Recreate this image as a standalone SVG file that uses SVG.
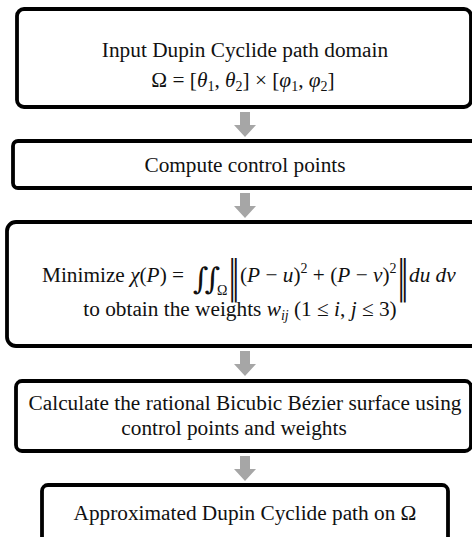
<svg xmlns="http://www.w3.org/2000/svg" width="472" height="537" viewBox="0 0 472 537">
<style>
.box{fill:#fff;stroke:#000;stroke-width:3.8}
.t{font-family:"Liberation Serif","Times New Roman",serif;font-size:21.3px;fill:#111}
.s{font-size:14px}
.i{font-style:italic}
.big{font-family:"DejaVu Serif","Liberation Serif",serif;font-size:30px;font-style:italic;fill:#111}
.bar{font-family:"DejaVu Sans","DejaVu Serif",sans-serif;font-size:22px;fill:#111}
.arr{fill:#a6a6a6}
</style>
<defs>
<path id="down" class="arr" d="M-5,0 H5 V13 H11 L0,25 L-11,13 H-5 Z"/>
</defs>
<rect width="472" height="537" fill="#fff"/>
<g id="connectors">
<use href="#down" x="245" y="112"/>
<use href="#down" x="245" y="193"/>
<use href="#down" x="245" y="351"/>
<use href="#down" x="245" y="456"/>
</g>
<g id="n1">
<rect class="box" x="17" y="9" width="454" height="98" rx="7"/>
<text class="t" x="245" y="57" text-anchor="middle">Input Dupin Cyclide path domain</text>
<text class="t" x="243" y="87" text-anchor="middle">Ω = [<tspan class="i">θ</tspan><tspan class="s" dy="4">1</tspan><tspan dy="-4">, </tspan><tspan class="i">θ</tspan><tspan class="s" dy="4">2</tspan><tspan dy="-4">] × [</tspan><tspan class="i">φ</tspan><tspan class="s" dy="4">1</tspan><tspan dy="-4">, </tspan><tspan class="i">φ</tspan><tspan class="s" dy="4">2</tspan><tspan dy="-4">]</tspan></text>
</g>
<g id="n2">
<rect class="box" x="13" y="141" width="475" height="47" rx="5"/>
<text class="t" x="245" y="172" text-anchor="middle">Compute control points</text>
</g>
<g id="n3">
<rect class="box" x="7" y="222" width="480" height="124" rx="9"/>
<text class="t" x="42" y="282">Minimize <tspan class="i">χ</tspan>(<tspan class="i">P</tspan>) =</text>
<text class="big" x="193" y="289" letter-spacing="-4">∫∫</text>
<text class="t s" x="217" y="295">Ω</text>
<text class="bar" transform="translate(234,292) scale(1,2.05)" text-anchor="middle">‖</text>
<text class="t" x="240" y="282">(<tspan class="i">P</tspan> − <tspan class="i">u</tspan>)<tspan class="s" dy="-9">2</tspan><tspan dy="9"> + (</tspan><tspan class="i">P</tspan> − <tspan class="i">v</tspan>)<tspan class="s" dy="-9">2</tspan></text>
<text class="bar" transform="translate(403,292) scale(1,2.05)" text-anchor="middle">‖</text>
<text class="t i" x="409" y="282">du dv</text>
<text class="t" x="240" y="316" text-anchor="middle">to obtain the weights <tspan class="i">w</tspan><tspan class="i s" dy="4">ij</tspan><tspan dy="-4">  (1 ≤ </tspan><tspan class="i">i</tspan>, <tspan class="i">j</tspan> ≤ 3)</text>
</g>
<g id="n4">
<rect class="box" x="16" y="381" width="455" height="70" rx="6"/>
<text class="t" x="245" y="410" text-anchor="middle">Calculate the rational Bicubic Bézier surface using</text>
<text class="t" x="234" y="435" text-anchor="middle">control points and weights</text>
</g>
<g id="n5">
<rect class="box" x="42" y="485" width="406" height="70" rx="6"/>
<text class="t" x="245" y="520" text-anchor="middle">Approximated Dupin Cyclide path on Ω</text>
</g>
</svg>
